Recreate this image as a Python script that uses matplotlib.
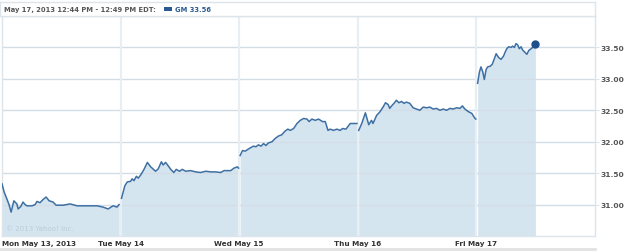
import matplotlib
matplotlib.use("Agg")
import matplotlib.pyplot as plt
from matplotlib.lines import Line2D

# GM intraday, May 13-17 2013 (minutes after 9:30 open, price)
day_labels = ["Mon May 13, 2013", "Tue May 14", "Wed May 15", "Thu May 16", "Fri May 17"]

mon_min = [0, 7, 16, 23, 30, 39, 49, 53, 62, 69, 76, 82, 99, 109, 115, 125, 135, 145,
           155, 168, 178, 201, 224, 247, 280, 313, 332, 349, 365, 378, 385]
mon_px = [31.33, 31.20, 31.09, 31.00, 30.88, 31.06, 31.01, 30.93, 30.97, 31.04, 31.00,
          30.98, 30.98, 31.00, 31.05, 31.03, 31.08, 31.12, 31.06, 31.04, 30.99, 30.99,
          31.01, 30.98, 30.98, 30.98, 30.96, 30.93, 30.98, 30.96, 31.00]

tue_min = [3, 14, 22, 33, 38, 44, 52, 58, 66, 77, 88, 99, 115, 124, 134, 140, 148, 156,
           165, 175, 183, 194, 203, 214, 230, 247, 263, 280, 296, 313, 329, 340, 362,
           373, 384, 388]
tue_px = [31.10, 31.30, 31.36, 31.37, 31.41, 31.38, 31.45, 31.42, 31.47, 31.56, 31.67,
          31.60, 31.53, 31.57, 31.68, 31.63, 31.67, 31.62, 31.56, 31.51, 31.56, 31.53,
          31.56, 31.53, 31.54, 31.52, 31.51, 31.53, 31.52, 31.52, 31.51, 31.54, 31.54,
          31.58, 31.60, 31.58]

wed_min = [3, 11, 20, 29, 36, 47, 55, 63, 72, 80, 88, 96, 108, 118, 129, 140, 151, 160,
           168, 179, 190, 201, 212, 223, 230, 239, 250, 261, 274, 283, 292, 299, 310,
           321, 332, 340, 351, 365, 376, 387]
wed_px = [31.78, 31.86, 31.85, 31.88, 31.90, 31.93, 31.92, 31.95, 31.93, 31.97, 31.94,
          31.98, 32.00, 32.05, 32.09, 32.11, 32.17, 32.20, 32.18, 32.21, 32.29, 32.34,
          32.37, 32.36, 32.32, 32.36, 32.34, 32.36, 32.32, 32.32, 32.18, 32.20, 32.18,
          32.20, 32.18, 32.21, 32.20, 32.29, 32.29, 32.29]

thu_min = [3, 13, 25, 36, 45, 50, 62, 72, 83, 91, 100, 105, 113, 119, 127, 135, 144, 152,
           160, 171, 182, 193, 204, 215, 226, 237, 248, 259, 270, 281, 292, 303, 314,
           325, 336, 344, 352, 363, 375, 384, 388]
thu_px = [32.18, 32.29, 32.46, 32.27, 32.34, 32.29, 32.42, 32.47, 32.55, 32.62, 32.59,
          32.53, 32.58, 32.61, 32.66, 32.62, 32.64, 32.61, 32.63, 32.61, 32.54, 32.52,
          32.50, 32.55, 32.54, 32.55, 32.52, 32.53, 32.50, 32.52, 32.50, 32.53, 32.52,
          32.54, 32.53, 32.57, 32.52, 32.48, 32.45, 32.38, 32.36]

fri_min = [4, 10, 15, 21, 26, 32, 37, 45, 52, 59, 65, 73, 81, 89, 95, 100, 106, 114, 119,
           125, 130, 136, 141, 147, 152, 158, 166, 172, 180, 188, 194]
fri_px = [32.93, 33.11, 33.19, 33.11, 32.99, 33.15, 33.19, 33.20, 33.23, 33.32, 33.40,
          33.34, 33.31, 33.36, 33.43, 33.48, 33.51, 33.50, 33.52, 33.50, 33.56, 33.54,
          33.48, 33.51, 33.46, 33.43, 33.39, 33.45, 33.48, 33.51, 33.56]

y_ticks = [31.0, 31.5, 32.0, 32.5, 33.0, 33.5]
session_len = 390  # minutes 9:30-16:00

days = [(mon_min, mon_px), (tue_min, tue_px), (wed_min, wed_px),
        (thu_min, thu_px), (fri_min, fri_px)]

W, H = 625, 253


def rect(x0, y0, x1, y1):
    return [x0 / W, 1 - y1 / H, (x1 - x0) / W, (y1 - y0) / H]


fig = plt.figure(figsize=(W / 100, H / 100), dpi=100)
ax = fig.add_axes(rect(2, 17, 595, 237))
hx = fig.add_axes(rect(0, 3, 595, 17))

line_c = "#3d6fa3"
fill_c = "#d5e5f0"
grid_c = "#dde4ea"
ymin, ymax = 30.5, 34.0

for i, (mins, px) in enumerate(days):
    t = [i + m / session_len for m in mins]
    ax.fill_between(t, px, ymin, color=fill_c, lw=0, zorder=1)
    ax.plot(t, px, color=line_c, lw=1.1, zorder=3)

last_t = 4 + fri_min[-1] / session_len
ax.plot([last_t], [fri_px[-1]], "o", color="#1d4f8b", ms=5, zorder=4)

for v in y_ticks:
    ax.axhline(v, color="#d2dde6", lw=1, zorder=2)
for d in range(1, 5):
    ax.axvline(d, color="#e9eef2", lw=1.6, zorder=2)

ax.set_xlim(0, 5)
ax.set_ylim(ymin, ymax)

ax.yaxis.tick_right()
ax.set_yticks(y_ticks)
ax.set_yticklabels([f"{v:.2f}" for v in y_ticks], fontsize=5.4, fontweight="bold",
                   color="#555555")
ax.tick_params(axis="y", length=3, color=grid_c, pad=1)

ax.set_xticks(range(5))
ax.set_xticklabels(day_labels, fontsize=5.2, fontweight="bold", color="#333333")
ax.tick_params(axis="x", length=0, pad=3)
ax.get_xticklabels()[0].set_ha("left")

for s in ax.spines.values():
    s.set_color(grid_c)
    s.set_linewidth(1)

ax.text(0.006, 0.035, "\u00a9 2013 Yahoo! Inc.", transform=ax.transAxes, fontsize=5,
        color="#bccbd8", va="center", ha="left", zorder=5)

# header strip
hx.set_xlim(0, W)
hx.set_ylim(0, 1)
hx.set_xticks([])
hx.set_yticks([])
for s in hx.spines.values():
    s.set_color(grid_c)
    s.set_linewidth(1)
head = hx.text(4, 0.5, "May 17, 2013 12:44 PM - 12:49 PM EDT:", fontsize=4.9,
               fontweight="bold", color="#555555", va="center", ha="left")

# place the legend swatch just after the header text
fig.canvas.draw()
bb = head.get_window_extent()
x_end = hx.transData.inverted().transform((bb.x1, 0))[0]
hx.add_patch(plt.Rectangle((x_end + 9, 0.38), 8, 0.26, color="#2a5a8f", lw=0))
hx.text(x_end + 20, 0.5, "GM 33.56", fontsize=4.9, fontweight="bold", color="#2a5a8f",
        va="center", ha="left")

fig.add_artist(Line2D([0, 595 / W], [1 - 250 / H, 1 - 250 / H], color="#e2e2e2", lw=2))

fig.savefig("out.png", dpi=100)
